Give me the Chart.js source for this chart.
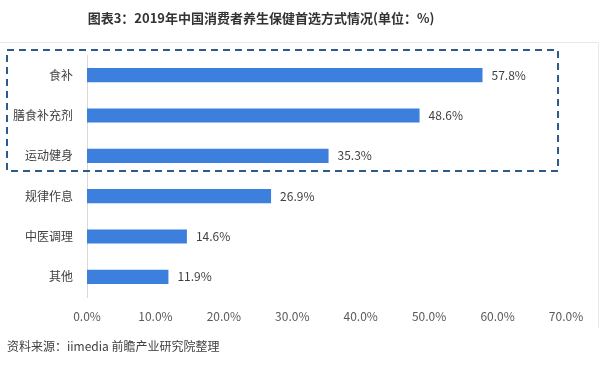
<!DOCTYPE html>
<html>
<head>
<meta charset="utf-8">
<script src="https://cdn.jsdelivr.net/npm/chart.js@4.4.0/dist/chart.umd.min.js"></script>
<style>
    body { margin: 0; background: #fff; }
    #wrap { position: relative; width: 600px; height: 365px; }
</style>
</head>
<body>
<div id="wrap"><canvas id="myChart" width="600" height="365"></canvas></div>
<script>
const categories = ["食补", "膳食补充剂", "运动健身", "规律作息", "中医调理", "其他"];
const shares = [57.8, 48.6, 35.3, 26.9, 14.6, 11.9];
const xTicks = [0, 10, 20, 30, 40, 50, 60, 70];
const highlighted = [0, 2]; // first and last index inside the dashed box

const titleText = "图表3：2019年中国消费者养生保健首选方式情况(单位：%)";
const sourceText = "资料来源：iimedia 前瞻产业研究院整理";
const FONT = '"Noto Sans CJK SC", "Noto Sans", sans-serif';

// title, source, value labels, dashed box
const extras = {
    id: 'extras',
    afterDatasetsDraw(chart) {
        const ctx = chart.ctx;
        const meta = chart.getDatasetMeta(0);
        ctx.save();
        ctx.font = '12px ' + FONT;
        ctx.fillStyle = '#404040';
        ctx.textBaseline = 'middle';
        ctx.textAlign = 'left';
        meta.data.forEach(function (bar, i) {
            ctx.fillText(shares[i].toFixed(1) + '%', bar.x + 9, bar.y);
        });

        // dashed highlight box
        const y = chart.scales.y;
        const band = y.getPixelForValue(1) - y.getPixelForValue(0);
        const top = y.getPixelForValue(highlighted[0]) - band / 2 - 5;
        const bottom = y.getPixelForValue(highlighted[1]) + band / 2 - 5;
        ctx.strokeStyle = '#2E5C8A';
        ctx.lineWidth = 2;
        ctx.setLineDash([7, 5]);
        ctx.strokeRect(7, top, 551, bottom - top);
        ctx.setLineDash([]);

        // frame
        ctx.strokeStyle = '#e8e8e8';
        ctx.lineWidth = 1;
        ctx.beginPath();
        ctx.moveTo(0, 42.5);
        ctx.lineTo(598.5, 42.5);
        ctx.lineTo(598.5, 328);
        ctx.stroke();

        ctx.fillStyle = '#333';
        ctx.font = 'bold 13px ' + FONT;
        ctx.textAlign = 'center';
        ctx.fillText(titleText, 261, 18);

        ctx.fillStyle = '#404040';
        ctx.font = '12px ' + FONT;
        ctx.textAlign = 'left';
        ctx.fillText(sourceText, 7, 346);
        ctx.restore();
    }
};

new Chart(document.getElementById("myChart"), {
    type: 'bar',
    data: {
        labels: categories,
        datasets: [{
            data: shares,
            backgroundColor: '#3C7FDC',
            barPercentage: 0.7,
            categoryPercentage: 0.5
        }]
    },
    options: {
        indexAxis: 'y',
        responsive: false,
        animation: false,
        layout: { padding: { top: 55, right: 34, bottom: 0, left: 0 } },
        plugins: {
            legend: { display: false },
            title: { display: false },
            tooltip: { enabled: false }
        },
        scales: {
            x: {
                min: 0,
                max: 70,
                afterBuildTicks: function (axis) {
                    axis.ticks = xTicks.map(function (v) { return { value: v }; });
                },
                afterFit: function (axis) { axis.height = 68; },
                grid: { display: false, drawTicks: false },
                border: { display: false },
                ticks: {
                    padding: 12,
                    color: '#595959',
                    font: { size: 12, family: FONT },
                    callback: function (v) { return v.toFixed(1) + '%'; }
                }
            },
            y: {
                afterFit: function (axis) { axis.width = 87; },
                grid: { display: false, drawTicks: false },
                border: { display: true, color: '#d9d9d9' },
                ticks: {
                    padding: 14,
                    color: '#404040',
                    font: { size: 12, family: FONT }
                }
            }
        }
    },
    plugins: [extras]
});
</script>
</body>
</html>
